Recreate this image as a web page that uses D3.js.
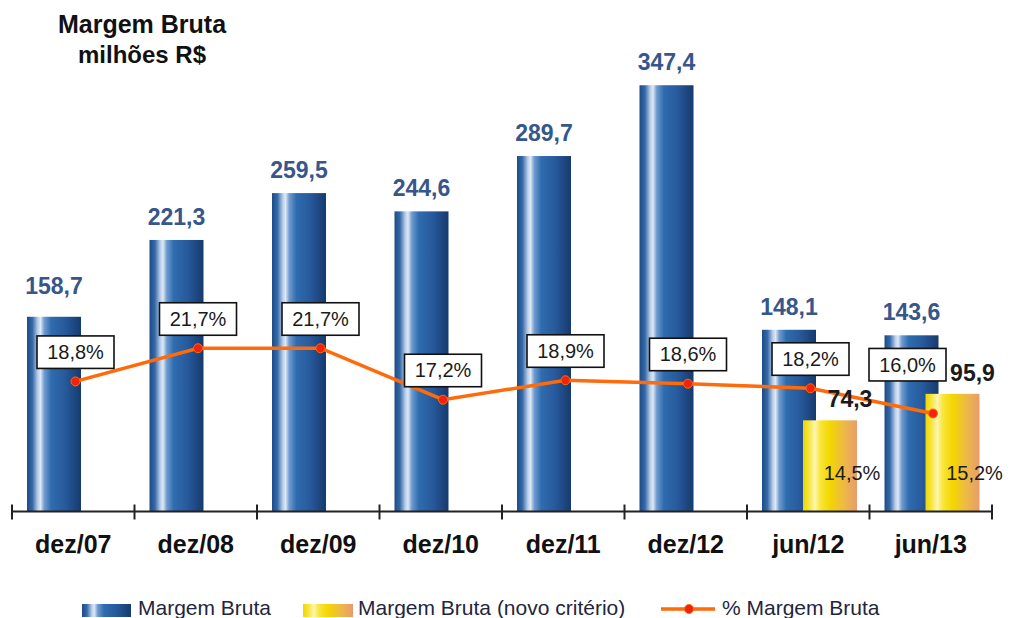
<!DOCTYPE html>
<html>
<head>
<meta charset="utf-8">
<script src="https://cdn.jsdelivr.net/npm/d3@7"></script>
<style>
  html, body { margin: 0; padding: 0; background: #fff; }
  svg { display: block; font-family: "Liberation Sans", Arial, sans-serif; }
</style>
</head>
<body>
<svg id="chart" width="1013" height="618"></svg>
<script>
// ---- data ----
const categories = ["dez/07", "dez/08", "dez/09", "dez/10", "dez/11", "dez/12", "jun/12", "jun/13"];
const margemBruta = [158.7, 221.3, 259.5, 244.6, 289.7, 347.4, 148.1, 143.6];
const margemNovoCriterio = [null, null, null, null, null, null, 74.3, 95.9];
const pctMargemBruta = [18.8, 21.7, 21.7, 17.2, 18.9, 18.6, 18.2, 16.0];
const pctNovoCriterio = [null, null, null, null, null, null, 14.5, 15.2];
const titleLines = ["Margem Bruta", "milhões R$"];
const legendLabels = ["Margem Bruta", "Margem Bruta (novo critério)", "% Margem Bruta"];

// ---- layout ----
const svg = d3.select("#chart");
const locale = d3.formatLocale({ decimal: ",", thousands: ".", grouping: [3], currency: ["R$", ""] });
const fmt1 = locale.format(".1f");

const x = d3.scaleBand().domain(categories).range([12, 992]).paddingInner(0).paddingOuter(0);
const y = d3.scaleLinear().domain([0, 400]).range([511.5, 20.7]);
const yP = d3.scaleLinear().domain([10, 25]).range([482.1, 310.5]);

const barW = 54;
const blueOff = 15;
const yellowOff = 56;
const pointOff = 63.5;

// gradients
const defs = svg.append("defs");
function grad(id, stops) {
  const g = defs.append("linearGradient").attr("id", id).attr("x1", "0").attr("x2", "1").attr("y1", "0").attr("y2", "0");
  stops.forEach(([o, c]) => g.append("stop").attr("offset", o).attr("stop-color", c));
}
grad("gBlue", [["0", "#1d4b86"], ["0.1", "#3469a8"], ["0.2", "#b9cde8"], ["0.25", "#dfe8f5"], ["0.32", "#6e9bd0"], ["0.45", "#2f6cae"], ["0.7", "#275a9c"], ["1", "#163a6d"]]);
grad("gYellow", [["0", "#efd600"], ["0.1", "#f5e437"], ["0.22", "#fff5b0"], ["0.32", "#f8e63a"], ["0.5", "#f4d600"], ["0.75", "#edba45"], ["1", "#e89c6c"]]);

// title
svg.append("text").attr("x", 142).attr("y", 33).attr("text-anchor", "middle")
  .attr("font-size", 25).attr("font-weight", "bold").attr("fill", "#111").text(titleLines[0]);
svg.append("text").attr("x", 142).attr("y", 63).attr("text-anchor", "middle")
  .attr("font-size", 24).attr("font-weight", "bold").attr("fill", "#111").text(titleLines[1]);

// blue bars
svg.append("g").selectAll("rect").data(categories).join("rect")
  .attr("x", c => x(c) + blueOff)
  .attr("y", (c, i) => y(margemBruta[i]))
  .attr("width", barW)
  .attr("height", (c, i) => y(0) - y(margemBruta[i]))
  .attr("fill", "url(#gBlue)");

// yellow bars
const novoIdx = categories.map((c, i) => i).filter(i => margemNovoCriterio[i] != null);
svg.append("g").selectAll("rect").data(novoIdx).join("rect")
  .attr("x", i => x(categories[i]) + yellowOff)
  .attr("y", i => y(margemNovoCriterio[i]))
  .attr("width", barW)
  .attr("height", i => y(0) - y(margemNovoCriterio[i]))
  .attr("fill", "url(#gYellow)");

// axis
const axisG = svg.append("g");
const x0 = x.range()[0], x1 = x.range()[1];
axisG.append("line").attr("x1", x0).attr("x2", x1).attr("y1", y(0)).attr("y2", y(0))
  .attr("stroke", "#222").attr("stroke-width", 2);
const bounds = categories.map(c => x(c)).concat([x1]);
axisG.selectAll("line.tick").data(bounds).join("line").attr("class", "tick")
  .attr("x1", d => d).attr("x2", d => d).attr("y1", y(0) - 7).attr("y2", y(0) + 8)
  .attr("stroke", "#222").attr("stroke-width", 2);

const xAxis = svg.append("g").attr("transform", `translate(0,${y(0)})`)
  .call(d3.axisBottom(x).tickSize(0).tickPadding(0));
xAxis.select(".domain").remove();
xAxis.selectAll("text").attr("dy", null).attr("y", 41)
  .attr("font-size", 25).attr("font-weight", "bold").attr("fill", "#111")
  .attr("font-family", "Liberation Sans, Arial, sans-serif");

// value labels on blue bars
const valueShift = { "dez/07": -8 };
svg.append("g").selectAll("text").data(categories).join("text")
  .attr("x", c => x(c) + blueOff + barW / 2)
  .attr("y", (c, i) => y(margemBruta[i]) - 15 + (valueShift[c] || 0))
  .attr("text-anchor", "middle").attr("font-size", 23).attr("font-weight", "bold")
  .attr("fill", "#36568c")
  .text((c, i) => fmt1(margemBruta[i]));

// line
const lineGen = d3.line().x((d, i) => x(categories[i]) + pointOff).y(d => yP(d));
svg.append("path").datum(pctMargemBruta).attr("d", lineGen)
  .attr("fill", "none").attr("stroke", "#ff6a0a").attr("stroke-width", 3.5);
svg.append("g").selectAll("circle").data(pctMargemBruta).join("circle")
  .attr("cx", (d, i) => x(categories[i]) + pointOff).attr("cy", d => yP(d)).attr("r", 4.5)
  .attr("fill", "#f2220c").attr("stroke", "#ff6a0a").attr("stroke-width", 1);

// yellow value labels
svg.append("g").selectAll("text").data(novoIdx).join("text")
  .attr("x", i => x(categories[i]) + yellowOff + barW / 2 + 20)
  .attr("y", i => y(margemNovoCriterio[i]) - 13)
  .attr("text-anchor", "middle").attr("font-size", 23).attr("font-weight", "bold")
  .attr("fill", "#1a1a1a")
  .text(i => fmt1(margemNovoCriterio[i]));

// pct labels inside yellow bars
svg.append("g").selectAll("text").data(novoIdx).join("text")
  .attr("x", i => x(categories[i]) + yellowOff + barW / 2 + 22)
  .attr("y", 480)
  .attr("text-anchor", "middle").attr("font-size", 20)
  .attr("fill", "#1a1a1a")
  .text(i => fmt1(pctNovoCriterio[i]) + "%");

// boxed pct labels
const boxShift = { "jun/13": [-25.5, -19.5] };
const boxW = 77, boxH = 32.5;
const boxes = svg.append("g").selectAll("g").data(categories).join("g")
  .attr("transform", (c, i) => {
    const s = boxShift[c] || [0, 0];
    const cx = x(c) + pointOff + s[0];
    const by = yP(pctMargemBruta[i]) - 13 + s[1];
    return `translate(${cx},${by - boxH})`;
  });
boxes.append("rect").attr("x", -boxW / 2).attr("y", 0).attr("width", boxW).attr("height", boxH)
  .attr("fill", "#fff").attr("stroke", "#111").attr("stroke-width", 1.6);
boxes.append("text").attr("x", 0).attr("y", boxH / 2 + 7)
  .attr("text-anchor", "middle").attr("font-size", 20).attr("fill", "#1a1a1a")
  .text((c, i) => fmt1(pctMargemBruta[i]) + "%");

// legend
const leg = svg.append("g");
leg.append("rect").attr("x", 82).attr("y", 604).attr("width", 49).attr("height", 13).attr("fill", "url(#gBlue)");
leg.append("text").attr("x", 138).attr("y", 615).attr("font-size", 21).attr("fill", "#1e2640").text(legendLabels[0]);
leg.append("rect").attr("x", 303).attr("y", 604).attr("width", 50).attr("height", 13).attr("fill", "url(#gYellow)");
leg.append("text").attr("x", 358).attr("y", 615).attr("font-size", 21).attr("fill", "#1e2640").text(legendLabels[1]);
leg.append("line").attr("x1", 661).attr("x2", 715).attr("y1", 609).attr("y2", 609)
  .attr("stroke", "#ff6a0a").attr("stroke-width", 3.5);
leg.append("circle").attr("cx", 689).attr("cy", 609).attr("r", 4.5)
  .attr("fill", "#f2220c").attr("stroke", "#ff6a0a").attr("stroke-width", 1);
leg.append("text").attr("x", 722).attr("y", 615).attr("font-size", 21).attr("fill", "#1e2640").text(legendLabels[2]);
</script>
</body>
</html>
